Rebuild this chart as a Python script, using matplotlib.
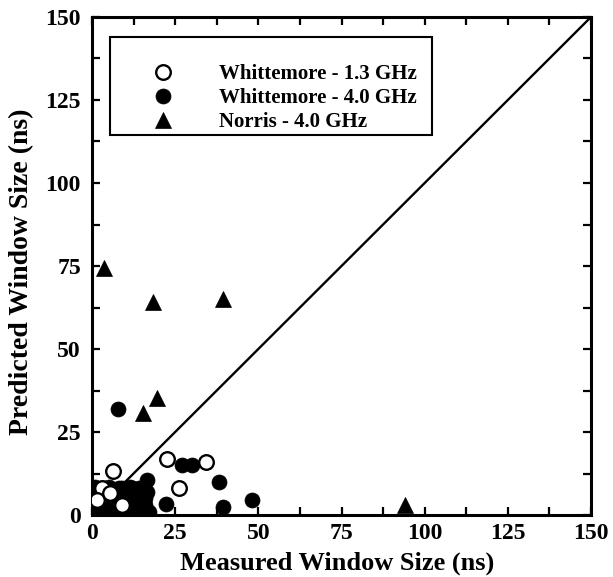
import matplotlib
matplotlib.use("Agg")
import matplotlib.pyplot as plt
from matplotlib.patches import Rectangle
from matplotlib.ticker import MultipleLocator

# Whittemore - 1.3 GHz (open circles)
w13_measured = [2.9, 6.4, 22.6, 34.3, 26.2, 1.5, 5.5, 9.0]
w13_predicted = [8.0, 13.3, 17.0, 16.0, 8.0, 4.5, 6.5, 3.0]

# Whittemore - 4.0 GHz (filled circles)
w40_measured = [7.7, 27.0, 30.2, 38.3, 39.3, 48.2, 22.2, 16.4, 16.4, 11.4,
                2.0, 3.0, 4.0, 5.0, 6.0, 7.0, 8.0, 9.0, 10.0, 11.0,
                12.0, 13.0, 14.0, 15.0, 1.0, 3.5, 9.5, 12.5, 5.0, 7.5,
                2.0, 14.5, 15.5, 1.0, 2.0, 3.0, 4.0, 4.0, 5.0, 6.0,
                6.0, 7.0, 8.0, 8.0, 9.0, 10.0, 10.0, 11.0, 11.0, 12.0,
                13.0, 13.0, 14.0, 15.0, 16.0, 17.0, 1.0, 2.0, 4.0, 6.0,
                8.0, 10.0, 12.0, 14.0, 16.0, 3.0, 5.0, 9.0, 13.0]
w40_predicted = [31.9, 15.0, 15.0, 10.0, 2.5, 4.5, 3.3, 10.5, 7.0, 8.4,
                 3.0, 1.0, 5.0, 2.0, 1.0, 4.0, 2.0, 6.0, 1.0, 3.0,
                 8.0, 2.0, 5.0, 1.0, 6.0, 7.0, 0.5, 0.5, 0.0, 0.5,
                 0.5, 3.0, 4.5, 1.0, 5.0, 3.0, 0.5, 8.0, 5.0, 3.0,
                 7.0, 1.5, 5.0, 8.0, 2.5, 5.0, 7.5, 1.0, 6.0, 3.5,
                 0.5, 6.0, 2.5, 7.0, 3.0, 1.0, 8.5, 2.0, 3.0, 5.0,
                 3.5, 2.5, 6.0, 8.0, 5.0, 6.0, 8.5, 8.0, 4.0]

# Norris - 4.0 GHz (triangles)
norris_measured = [3.6, 18.4, 39.3, 19.5, 15.4, 94.0, 2.0, 10.0]
norris_predicted = [74.4, 64.2, 65.0, 35.2, 30.6, 3.0, 1.5, 3.0]

ticks = [0, 25, 50, 75, 100, 125, 150]
ax_min, ax_max = 0, 150

plt.rcParams["font.family"] = ["Liberation Serif", "DejaVu Serif"]
plt.rcParams["font.weight"] = "bold"

fig = plt.figure(figsize=(6.13, 5.77), dpi=100)
ax = fig.add_axes([92 / 613, 1 - 515 / 577, 499 / 613, 498 / 577])

# one-to-one reference line
ax.plot([ax_min, ax_max], [ax_min, ax_max], color="black", lw=1.7, zorder=1)

h1, = ax.plot(w13_measured, w13_predicted, "o", ms=10.5, mfc="white",
              mec="black", mew=1.7, ls="none", zorder=3,
              label="Whittemore - 1.3 GHz")
h2, = ax.plot(w40_measured, w40_predicted, "o", ms=10.8, mfc="black",
              mec="black", mew=0.5, ls="none", zorder=2,
              label="Whittemore - 4.0 GHz")
h3, = ax.plot(norris_measured, norris_predicted, "^", ms=11.5, mfc="black",
              mec="black", mew=0.5, ls="none", zorder=2,
              label="Norris - 4.0 GHz")

ax.set_xlim(ax_min, ax_max)
ax.set_ylim(ax_min, ax_max)
ax.set_xticks(ticks)
ax.set_yticks(ticks)
ax.xaxis.set_minor_locator(MultipleLocator(12.5))
ax.yaxis.set_minor_locator(MultipleLocator(12.5))
ax.tick_params(which="both", direction="in", top=True, right=True,
               length=6, width=1.6)
ax.tick_params(axis="x", which="major", pad=6, labelsize=17)
ax.tick_params(axis="y", which="major", pad=8, labelsize=17)
for lab in ax.get_xticklabels() + ax.get_yticklabels():
    lab.set_fontweight("bold")
for sp in ax.spines.values():
    sp.set_linewidth(2.2)

fig.text(180 / 613, 1 - 570 / 577, "Measured Window Size (ns)",
         ha="left", va="baseline", fontsize=19, fontweight="bold")
fig.text(22 / 613, 1 - 272 / 577, "Predicted Window Size (ns)",
         ha="center", va="center", rotation=90, fontsize=20,
         fontweight="bold")

# legend box
box = Rectangle((110 / 613, 1 - 135 / 577), 322 / 613, 98 / 577,
                transform=fig.transFigure, fill=False, ec="black", lw=1.5,
                zorder=5)
fig.add_artist(box)
leg = fig.legend(handles=[h1, h2, h3], loc="upper left",
                 bbox_to_anchor=(146 / 613, 1 - 64 / 577), frameon=False,
                 handlelength=1.6, handletextpad=1.9,
                 labelspacing=0.2, borderpad=0, borderaxespad=0,
                 prop={"weight": "bold", "size": 15})

fig.savefig("out.png", dpi=100)
